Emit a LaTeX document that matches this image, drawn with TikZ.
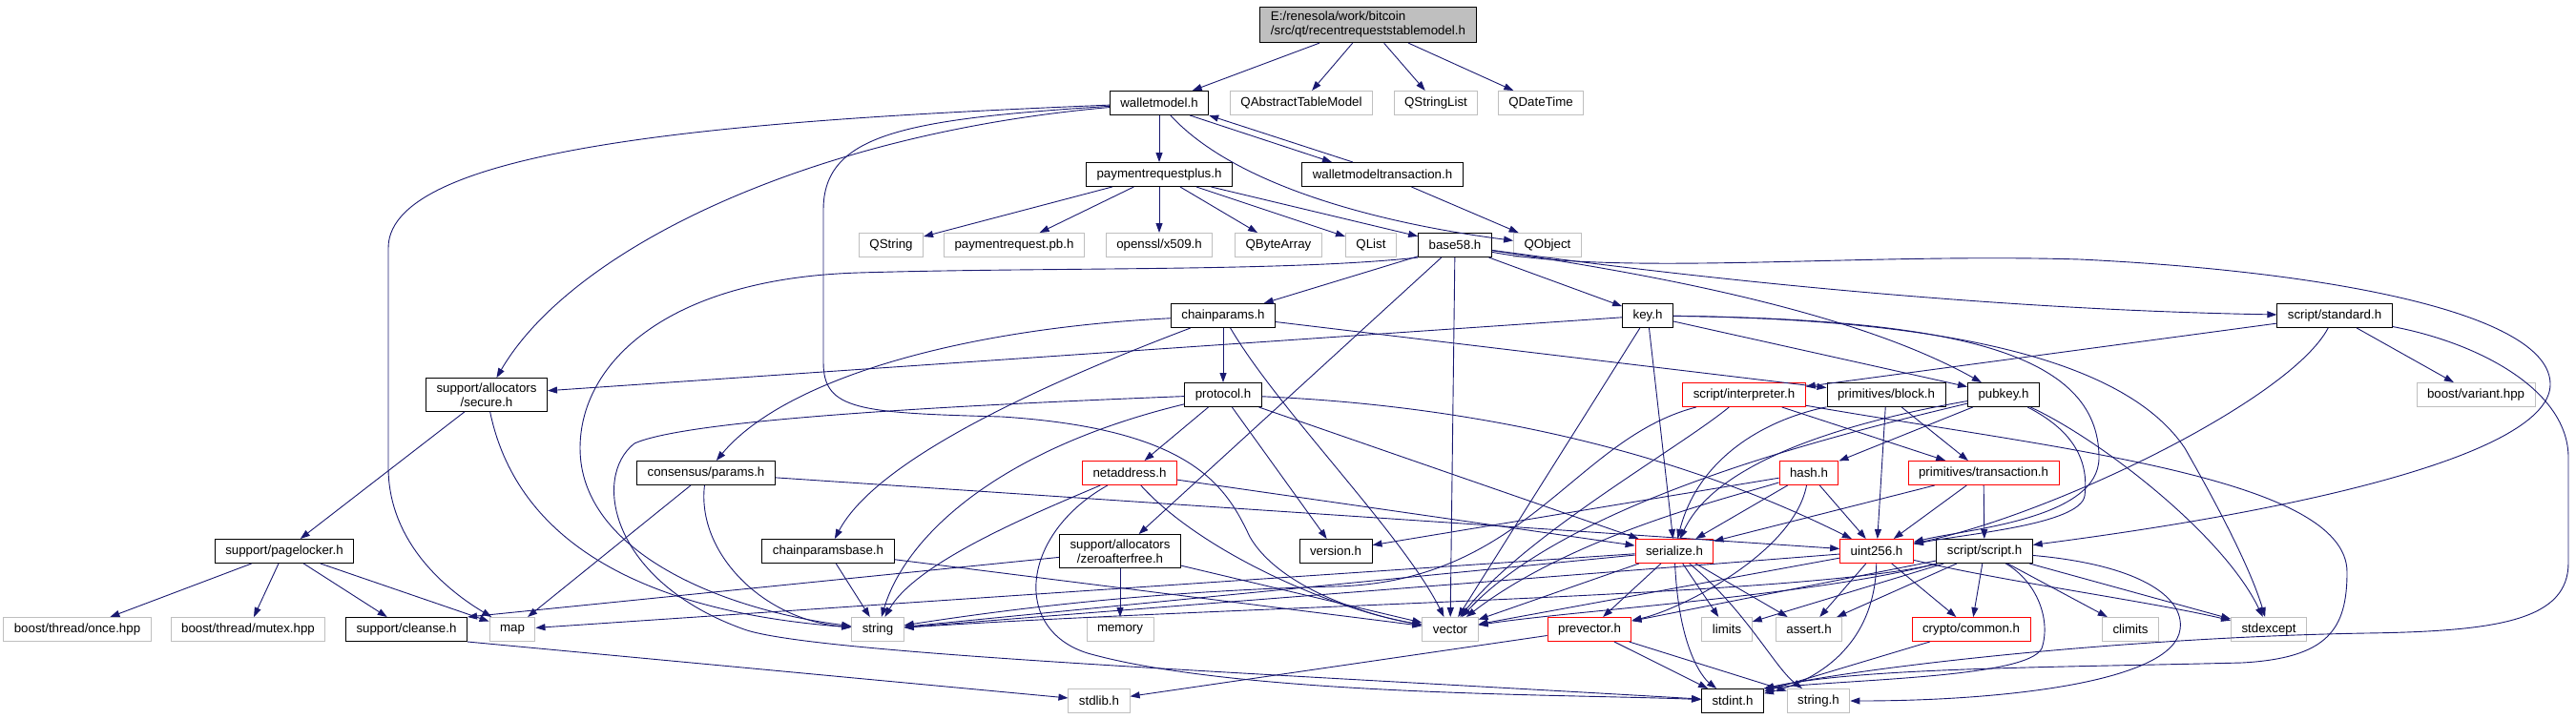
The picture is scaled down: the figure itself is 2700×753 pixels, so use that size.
\documentclass[tikz,border=0pt]{standalone}
\usepackage{fontspec}
\setmainfont{Liberation Sans}
\usetikzlibrary{arrows.meta}
\definecolor{edgeblue}{HTML}{191970}
\definecolor{boxgrey}{HTML}{BFBFBF}

\begin{document}
\begin{tikzpicture}[x=1pt, y=-1pt,
  font=\fontsize{13.3}{15}\selectfont,
  box/.style={rectangle, line width=1pt, minimum height=25pt, inner xsep=11pt, inner ysep=5pt, fill=white},
  hdr/.style={box, draw=black},
  sys/.style={box, draw=boxgrey},
  trunc/.style={box, draw=red},
  dep/.style={draw=edgeblue, line width=0.9pt, -{Triangle[length=10pt,width=7pt]}}]
\useasboundingbox (0,0) rectangle (2700,753);

\node[hdr, fill=boxgrey, align=left] (root) at (1434,26) {E:/renesola/work/bitcoin\\/src/qt/recentrequeststablemodel.h};
\node[hdr] (wm) at (1215,108) {walletmodel.h};
\node[sys] (qatm) at (1364,108) {QAbstractTableModel};
\node[sys] (qsl) at (1505,108) {QStringList};
\node[sys] (qdt) at (1615,108) {QDateTime};
\node[hdr] (prp) at (1215,183) {paymentrequestplus.h};
\node[hdr] (wmt) at (1449,183) {walletmodeltransaction.h};
\node[sys] (qstr) at (934,257) {QString};
\node[sys] (prpb) at (1063,257) {paymentrequest.pb.h};
\node[sys] (x509) at (1215,257) {openssl/x509.h};
\node[sys] (qba) at (1340,257) {QByteArray};
\node[sys] (qlist) at (1437,257) {QList};
\node[hdr] (b58) at (1525,257) {base58.h};
\node[sys] (qobj) at (1622,257) {QObject};
\node[hdr] (cp) at (1282,331) {chainparams.h};
\node[hdr] (key) at (1727,331) {key.h};
\node[hdr] (std) at (2447,331) {script/standard.h};
\node[hdr, align=center] (secure) at (510,414) {support/allocators\\/secure.h};
\node[hdr] (proto) at (1282,414) {protocol.h};
\node[trunc] (interp) at (1828,414) {script/interpreter.h};
\node[hdr] (block) at (1977,414) {primitives/block.h};
\node[hdr] (pubkey) at (2100,414) {pubkey.h};
\node[sys] (variant) at (2595,414) {boost/variant.hpp};
\node[hdr] (params) at (740,496) {consensus/params.h};
\node[trunc] (netaddr) at (1184,496) {netaddress.h};
\node[trunc] (hash) at (1896,496) {hash.h};
\node[trunc] (tx) at (2079,496) {primitives/transaction.h};
\node[hdr] (pagelock) at (298,578) {support/pagelocker.h};
\node[hdr] (cpbase) at (868,578) {chainparamsbase.h};
\node[hdr, align=center] (zaf) at (1174,578) {support/allocators\\/zeroafterfree.h};
\node[hdr] (version) at (1400,578) {version.h};
\node[trunc] (ser) at (1755,578) {serialize.h};
\node[trunc] (u256) at (1967,578) {uint256.h};
\node[hdr] (script) at (2080,578) {script/script.h};
\node[sys] (once) at (81,660) {boost/thread/once.hpp};
\node[sys] (mutex) at (260,660) {boost/thread/mutex.hpp};
\node[hdr] (cleanse) at (426,660) {support/cleanse.h};
\node[sys] (map) at (537,660) {map};
\node[sys] (string) at (920,660) {string};
\node[sys] (memory) at (1174,660) {memory};
\node[sys] (vector) at (1520,660) {vector};
\node[trunc] (prevec) at (1666,660) {prevector.h};
\node[sys] (limits) at (1810,660) {limits};
\node[sys] (assert) at (1896,660) {assert.h};
\node[trunc] (common) at (2066,660) {crypto/common.h};
\node[sys] (climits) at (2233,660) {climits};
\node[sys] (stdexc) at (2378,660) {stdexcept};
\node[sys] (stdlib) at (1152,735) {stdlib.h};
\node[hdr] (stdint) at (1816,735) {stdint.h};
\node[sys] (stringh) at (1906,735) {string.h};

\foreach \a/\b in {root/wm, root/qatm, root/qsl, root/qdt, wm/prp, prp/qstr, prp/prpb, prp/x509,
  prp/qba, prp/qlist, prp/b58, wmt/qobj, b58/cp, b58/key, b58/vector, b58/zaf, cp/proto, cp/block,
  key/secure, key/ser, key/vector, key/pubkey, std/variant, std/interp, proto/netaddr, proto/version,
  proto/ser, secure/pagelock, pagelock/once, pagelock/mutex, pagelock/cleanse, pagelock/map,
  cpbase/string, cpbase/vector, zaf/memory, zaf/vector, params/map, params/u256, netaddr/ser,
  block/tx, block/u256, pubkey/hash, interp/tx, hash/ser, hash/u256, hash/version, tx/script,
  tx/ser, tx/u256, ser/prevec, ser/limits, ser/assert, ser/map, ser/string, ser/vector,
  u256/assert, u256/common, u256/string, u256/vector, script/common, script/prevec,
  script/assert, script/climits, script/limits, script/stdexc, prevec/stdint, prevec/stringh,
  prevec/stdlib, common/stdint}
  \draw[dep] (\a) -- (\b);

\draw[dep] ([xshift=-20pt]wm.south east) -- ([xshift=-53pt]wmt.north);
\draw[dep] ([xshift=-31pt]wmt.north) -- (wm.south east);
\draw[dep] (wm) .. controls (1290,190) and (1430,232) .. (qobj);
\draw[dep] (wm) .. controls (850,140) and (600,260) .. (secure);
\draw[dep] (wm) .. controls (800,125) and (407,150) .. (407,260) -- (407,490)
  .. controls (407,570) and (470,620) .. (map);
\draw[dep] (wm) .. controls (950,125) and (863,140) .. (863,220) -- (863,380)
  .. controls (863,430) and (900,433) .. (1050,437) .. controls (1250,450) and (1285,510) .. (1310,563)
  .. controls (1340,615) and (1430,645) .. (vector);
\draw[dep] (zaf) -- (cleanse.north east);
\draw[dep] (cleanse.south east) -- (stdlib);

\draw[dep] (b58.south west) .. controls (1350,285) and (1100,280) .. (900,286)
  .. controls (700,292) and (608,380) .. (608,470) .. controls (608,580) and (760,640) .. (string);
\draw[dep] (b58) .. controls (1750,290) and (1950,330) .. (pubkey);
\draw[dep] (b58) .. controls (1800,295) and (2100,325) .. (std);
\draw[dep] (b58) .. controls (1700,290) and (1950,265) .. (2180,272)
  .. controls (2450,285) and (2673,330) .. (2673,403) .. controls (2673,470) and (2450,530) .. (script);

\draw[dep] (cp) .. controls (1100,400) and (920,480) .. (cpbase);
\draw[dep] (cp) .. controls (1000,345) and (820,400) .. (params);
\draw[dep] (cp) .. controls (1340,430) and (1470,560) .. (vector);

\draw[dep] (key) .. controls (2050,335) and (2200,370) .. (2200,480)
  .. controls (2200,545) and (2060,555) .. (u256);
\draw[dep] (key) .. controls (2050,335) and (2230,380) .. (2290,470)
  .. controls (2330,540) and (2360,600) .. (stdexc);

\draw[dep] (std) .. controls (2400,420) and (2150,540) .. (u256);
\draw[dep] (std) .. controls (2600,360) and (2692,410) .. (2692,480) -- (2692,590)
  .. controls (2692,650) and (2620,662) .. (2480,664) .. controls (2250,668) and (1980,695) .. (stdint.north east);

\draw[dep] (proto) .. controls (1050,470) and (950,560) .. (string);
\draw[dep] (proto) .. controls (1650,430) and (1850,520) .. (u256);
\draw[dep] (proto) .. controls (1000,425) and (720,440) .. (665,465)
  .. controls (620,500) and (640,610) .. (780,660) .. controls (850,685) and (1300,705) .. (stdint);

\draw[dep] (params) .. controls (730,580) and (800,650) .. (string);
\draw[dep] (secure) .. controls (540,560) and (660,640) .. (string);

\draw[dep] (netaddr) .. controls (1080,540) and (960,590) .. (string);
\draw[dep] (netaddr) .. controls (1260,580) and (1400,640) .. (vector);
\draw[dep] (netaddr) .. controls (1070,560) and (1060,660) .. (1140,685)
  .. controls (1300,730) and (1650,728) .. (stdint);

\draw[dep] (interp) .. controls (1650,460) and (1600,610) .. (1400,615)
  .. controls (1200,620) and (1050,640) .. (string);
\draw[dep] (interp) .. controls (1760,470) and (1600,560) .. (vector);
\draw[dep] (interp) .. controls (2150,470) and (2460,500) .. (2460,600)
  .. controls (2460,660) and (2440,690) .. (2350,695) .. controls (2150,700) and (1950,700) .. (stdint.north east);

\draw[dep] (block) .. controls (1850,440) and (1780,480) .. (ser);
\draw[dep] (pubkey) .. controls (1950,440) and (1800,480) .. (ser);
\draw[dep] (pubkey) .. controls (1950,450) and (1650,520) .. (vector);
\draw[dep] (pubkey) .. controls (2170,450) and (2190,480) .. (2185,520)
  .. controls (2180,550) and (2060,560) .. (u256);
\draw[dep] (pubkey) .. controls (2200,460) and (2330,560) .. (stdexc);

\draw[dep] (hash) .. controls (1820,520) and (1650,560) .. (vector);
\draw[dep] (hash) .. controls (1880,580) and (1760,640) .. (prevec);

\draw[dep] (ser) .. controls (1760,690) and (1790,715) .. (stdint);
\draw[dep] (ser) .. controls (1830,640) and (1860,700) .. (stringh);
\draw[dep] (u256) .. controls (1965,680) and (1900,715) .. (stdint);
\draw[dep] (u256) .. controls (2100,610) and (2250,630) .. (stdexc);

\draw[dep] (script) .. controls (1900,625) and (1650,640) .. (vector);
\draw[dep] (script) .. controls (1900,625) and (1300,635) .. (string);
\draw[dep] (script) .. controls (2135,610) and (2150,650) .. (2140,680)
  .. controls (2125,710) and (1950,712) .. (stdint.north east);
\draw[dep] (script) .. controls (2240,592) and (2290,625) .. (2285,660)
  .. controls (2278,715) and (2100,735) .. (stringh);
\end{tikzpicture}
\end{document}
